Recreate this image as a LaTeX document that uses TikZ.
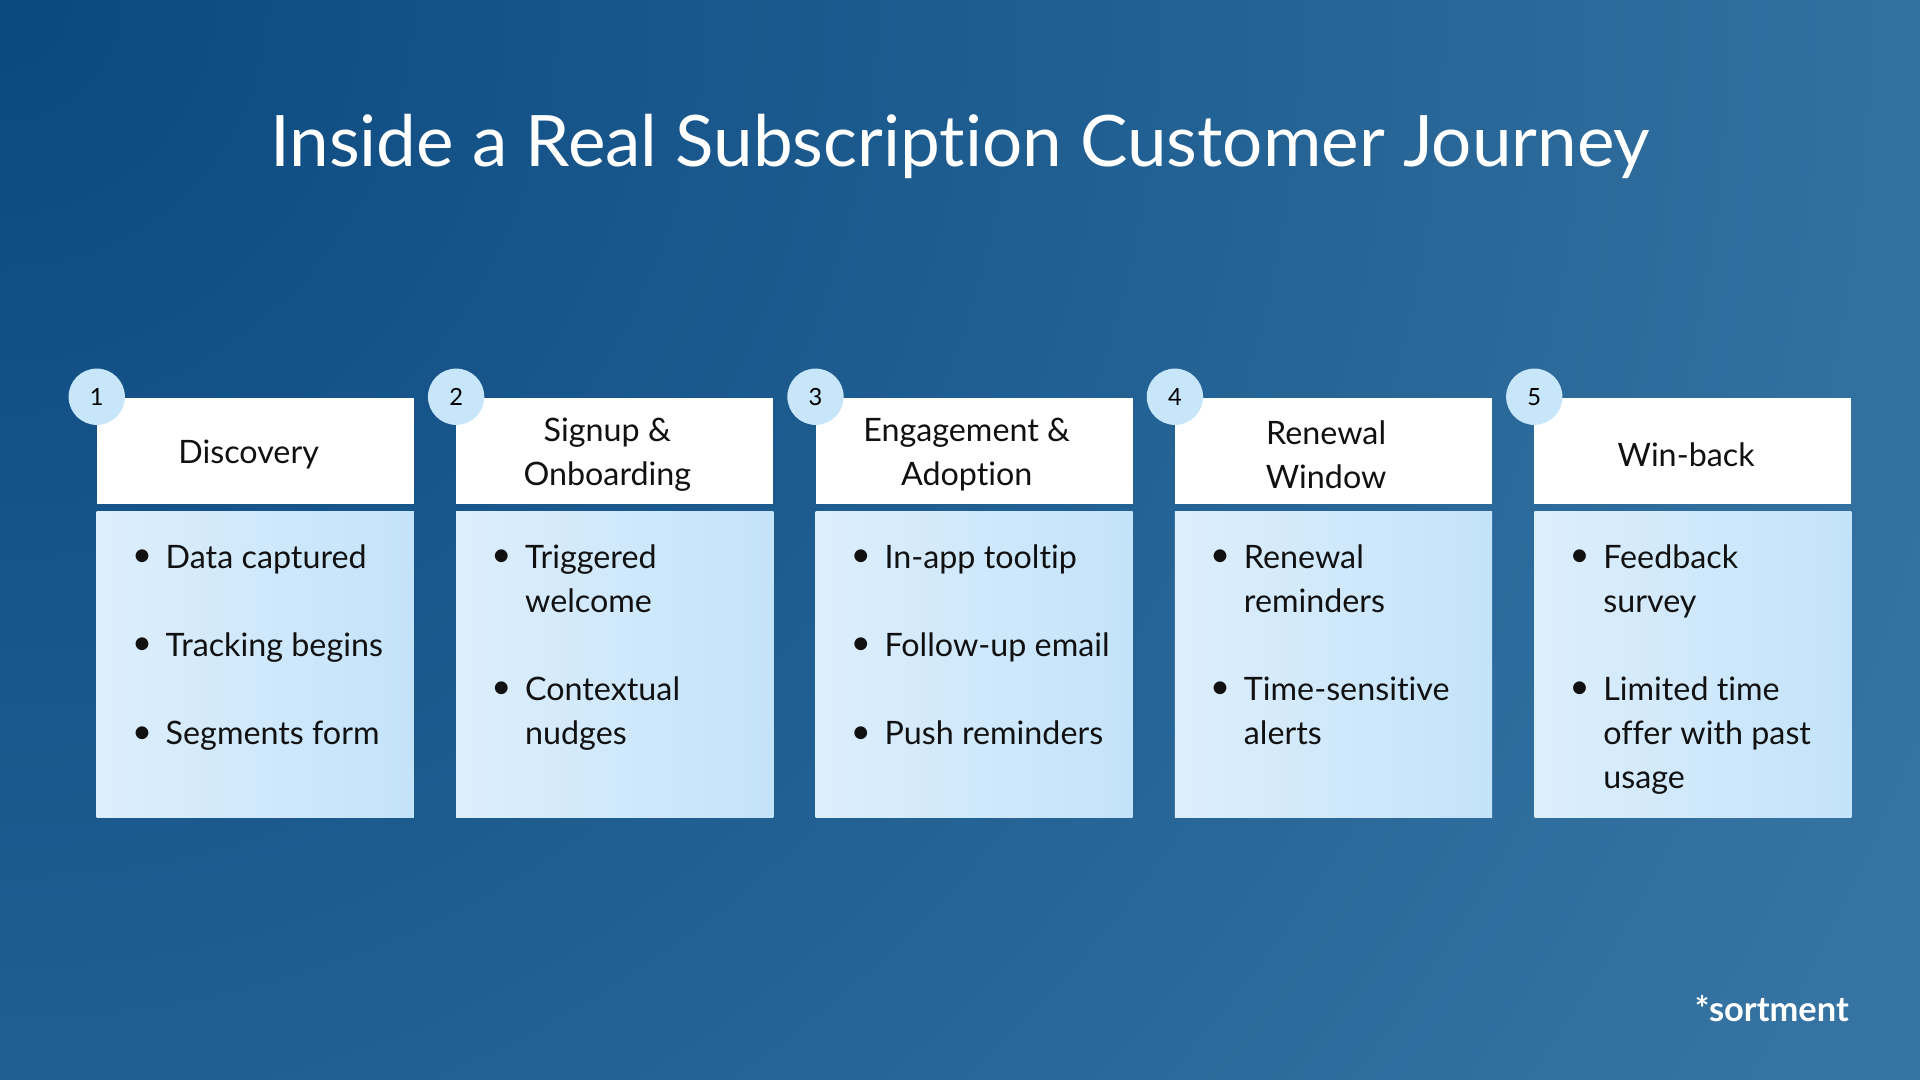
\documentclass[tikz,border=0pt]{standalone}
\usepackage{fontspec}
\setmainfont{Lato}[Ligatures={NoCommon,NoRare}]
\begin{document}
\begin{tikzpicture}[x=0.02cm,y=-0.02cm,
  hdr/.style={fill=white,draw=none},
  body/.style={left color=bodyA,right color=bodyB,draw=none},
  num/.style={circle,fill=circ,minimum size=46*0.02cm,inner sep=0pt,font=\fontsize{11}{13}\selectfont,text=black},
  ttl/.style={align=center,font=\fontsize{15}{20.4}\selectfont,text=txt},
  bul/.style={font=\fontsize{16}{16}\selectfont,text=txt,inner sep=0pt},
  itm/.style={anchor=base west,font=\fontsize{15}{20.4}\selectfont,text=txt,inner sep=0pt}]
\definecolor{bgA}{HTML}{0A4880}
\definecolor{bgB}{HTML}{3574A2}
\definecolor{bodyA}{HTML}{DDEEFC}
\definecolor{bodyB}{HTML}{C3E3FA}
\definecolor{circ}{HTML}{C8E6FA}
\definecolor{txt}{HTML}{111111}
\useasboundingbox (0,0) rectangle (1568,882);
\begin{scope}
\clip (0,0) rectangle (1568,882);
\fill[bgB] (0,0) rectangle (1568,882);
\shade[inner color=bgA,outer color=bgB] (0,0) circle (1700);
\end{scope}
\node[text=white,font=\fontsize{33}{38}\selectfont] (title) at (784,120) {Inside a Real Subscription Customer Journey};
\foreach \i/\x in {1/79,2/372.5,3/666,4/959.5,5/1253}{
  \fill[hdr] (\x,325) rectangle ++(259,87);
  \fill[body] (\x,418) rectangle ++(259,250);
  \node[num] (n\i) at (\x,324) {\i};
}
\node[ttl] (t1) at (203,371) {Discovery};
\node[ttl] (t2) at (496,371) {Signup \&\\Onboarding};
\node[ttl] (t3) at (789.5,371) {Engagement \&\\Adoption};
\node[ttl] (t4) at (1083,371) {Renewal\\Window};
\node[ttl] (t5) at (1377,371) {Win-back};
\foreach \x/\y in {79/456,79/528,79/600,372.5/456,372.5/564,666/456,666/528,666/600,959.5/456,959.5/564,1253/456,1253/564}{
  \node[bul] at (\x+37,\y) {•};
}
\node[itm] (a1) at (135,464) {Data captured};
\node[itm] (a2) at (135,536) {Tracking begins};
\node[itm] (a3) at (135,608) {Segments form};
\node[itm] (b1) at (428.5,464) {Triggered};
\node[itm] (b1b) at (428.5,500) {welcome};
\node[itm] (b2) at (428.5,572) {Contextual};
\node[itm] (b2b) at (428.5,608) {nudges};
\node[itm] (c1) at (722,464) {In-app tooltip};
\node[itm] (c2) at (722,536) {Follow-up email};
\node[itm] (c3) at (722,608) {Push reminders};
\node[itm] (d1) at (1015.5,464) {Renewal};
\node[itm] (d1b) at (1015.5,500) {reminders};
\node[itm] (d2) at (1015.5,572) {Time-sensitive};
\node[itm] (d2b) at (1015.5,608) {alerts};
\node[itm] (e1) at (1309,464) {Feedback};
\node[itm] (e1b) at (1309,500) {survey};
\node[itm] (e2) at (1309,572) {Limited time};
\node[itm] (e2b) at (1309,608) {offer with past};
\node[itm] (e2c) at (1309,644) {usage};
\node[text=white,font=\fontsize{16}{18}\selectfont\bfseries,anchor=east] (logo) at (1516,824) {*sortment};
\end{tikzpicture}
\end{document}
